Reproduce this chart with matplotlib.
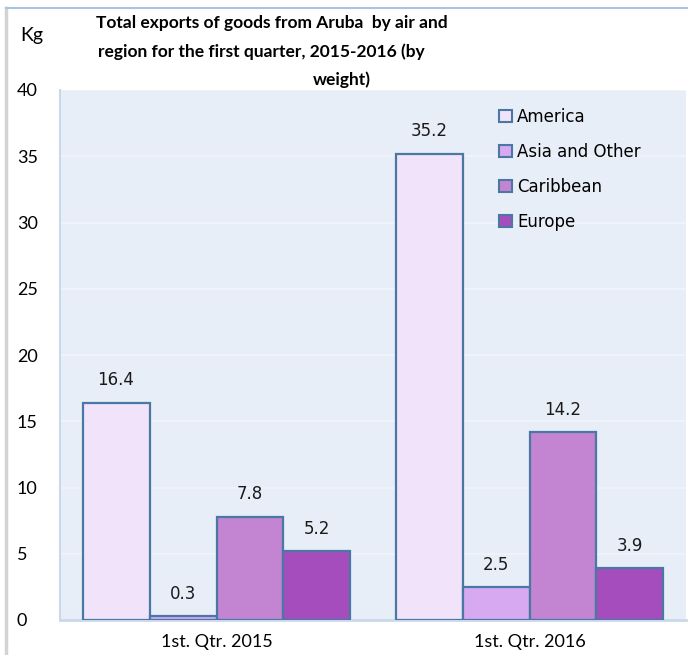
import matplotlib
matplotlib.use("Agg")
import matplotlib.pyplot as plt
import numpy as np
from matplotlib.lines import Line2D
from matplotlib.patches import Rectangle

periods = ["1st. Qtr. 2015", "1st. Qtr. 2016"]
regions = ["America", "Asia and Other", "Caribbean", "Europe"]
america = [16.4, 35.2]
asia_other = [0.3, 2.5]
caribbean = [7.8, 14.2]
europe = [5.2, 3.9]
yticks = [0, 5, 10, 15, 20, 25, 30, 35, 40]

series = [america, asia_other, caribbean, europe]
colors = ["#F1E3FA", "#D6A9F1", "#C384D1", "#A64DBD"]
edge = "#4A77A3"

fig = plt.figure(figsize=(6.88, 6.55), dpi=100)
ax = fig.add_axes([60 / 688, 1 - 620 / 655, 626 / 688, 530 / 655])
ax.set_facecolor("#E7EEF7")

x = np.arange(len(periods))
w = 0.214
for i, (vals, c) in enumerate(zip(series, colors)):
    pos = x + (i - 1.5) * w
    ax.bar(pos, vals, w, color=c, edgecolor=edge, linewidth=1.6, zorder=3)
    for p, v in zip(pos, vals):
        ax.text(p, v + 1.0, f"{v}", ha="center", va="bottom", fontsize=12,
                family="DejaVu Sans", color="#1a1a1a")

ax.set_xlim(-0.5, 1.5)
ax.set_ylim(0, 40)
ax.set_yticks(yticks)
ax.set_yticklabels([str(t) for t in yticks], family="Lato", fontsize=13)
ax.set_xticks(x)
ax.set_xticklabels(periods, family="Lato", fontsize=13)
ax.tick_params(length=0)
ax.tick_params(axis="x", pad=10)
for lab in ax.get_yticklabels():
    lab.set_horizontalalignment("left")
ax.tick_params(axis="y", pad=31)
ax.grid(axis="y", color="#F0F4FA", linewidth=1.2, zorder=0)
for s in ["top", "right"]:
    ax.spines[s].set_visible(False)
ax.spines["left"].set_color("#C9D8EA")
ax.spines["bottom"].set_color("#C9D8EA")
ax.spines["left"].set_linewidth(1.5)
ax.spines["bottom"].set_linewidth(2)

handles = [Rectangle((0, 0), 1, 1, facecolor=c, edgecolor=edge, linewidth=1.5) for c in colors]
ax.legend(handles, regions, loc="upper left", bbox_to_anchor=(0.678, 0.995),
          frameon=False, handlelength=0.75, handleheight=0.75, handletextpad=0.3,
          labelspacing=1.02, prop={"family": "DejaVu Sans", "size": 12})

fig.text(20 / 688, 1 - 35 / 655, "Kg", family="Lato", fontsize=14, va="center")
fig.text(272 / 688, 1 - 23 / 655, "Total exports of goods from Aruba  by air and",
         family="Lato", fontweight="bold", fontsize=12.5, ha="center", va="center")
fig.text(261 / 688, 1 - 52 / 655, "region for the first quarter, 2015-2016 (by",
         family="Lato", fontweight="bold", fontsize=12.5, ha="center", va="center")
fig.text(342 / 688, 1 - 80 / 655, "weight)",
         family="Lato", fontweight="bold", fontsize=12.5, ha="center", va="center")

# frame lines of the original chart box
fig.add_artist(Line2D([6 / 688, 6 / 688], [0, 1 - 8 / 655], color="#D3D3D3", linewidth=2.5))
fig.add_artist(Line2D([6 / 688, 1], [1 - 8 / 655, 1 - 8 / 655], color="#A9C4E0", linewidth=1.5))

fig.savefig("out.png", dpi=100)
